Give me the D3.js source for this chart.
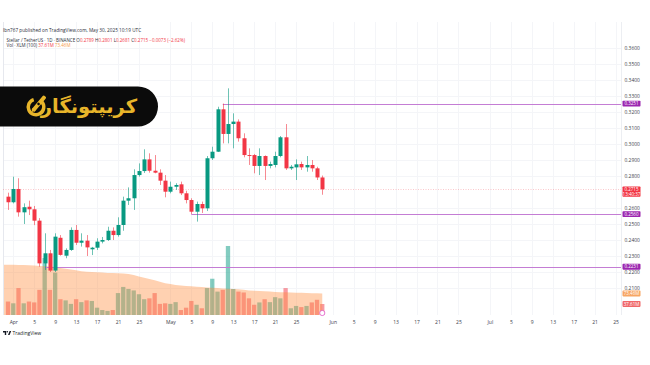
<!DOCTYPE html>
<html><head><meta charset="utf-8">
<script src="https://cdn.jsdelivr.net/npm/d3@7"></script>
<style>html,body{margin:0;padding:0;background:#fff;} svg{display:block;}</style>
</head><body>
<svg id="c" width="650" height="365"></svg>
<script>
// ---------- data ----------
const startDate = "2025-03-31";
const opens  = [0.2669,0.2634,0.2717,0.2571,0.2606,0.2590,0.2519,0.2252,0.2315,0.2207,0.2412,0.2300,0.2336,0.2461,0.2381,0.2394,0.2340,0.2350,0.2388,0.2398,0.2456,0.2429,0.2492,0.2644,0.2659,0.2804,0.2829,0.2902,0.2831,0.2819,0.2769,0.2700,0.2731,0.2746,0.2690,0.2648,0.2575,0.2623,0.2596,0.2909,0.2950,0.3215,0.3061,0.3123,0.3138,0.3034,0.2929,0.2929,0.2861,0.2923,0.2861,0.2867,0.2923,0.3040,0.2846,0.2852,0.2873,0.2852,0.2867,0.2846,0.2789];
const highs  = [0.2694,0.2794,0.2784,0.2627,0.2644,0.2611,0.2535,0.2440,0.2336,0.2440,0.2429,0.2346,0.2477,0.2492,0.2440,0.2429,0.2355,0.2409,0.2417,0.2481,0.2477,0.2540,0.2669,0.2727,0.2840,0.2877,0.2965,0.2940,0.2929,0.2840,0.2804,0.2763,0.2753,0.2763,0.2706,0.2659,0.2638,0.2638,0.2923,0.2981,0.3231,0.3251,0.3346,0.3190,0.3152,0.3065,0.2971,0.2936,0.2971,0.2927,0.2888,0.2950,0.3048,0.3123,0.2867,0.2902,0.2888,0.2923,0.2898,0.2856,0.2801];
const lows   = [0.2586,0.2627,0.2544,0.2498,0.2554,0.2491,0.2231,0.2211,0.2198,0.2198,0.2300,0.2284,0.2330,0.2367,0.2357,0.2298,0.2304,0.2336,0.2377,0.2392,0.2398,0.2419,0.2456,0.2617,0.2586,0.2794,0.2817,0.2819,0.2815,0.2742,0.2665,0.2690,0.2711,0.2679,0.2627,0.2560,0.2513,0.2567,0.2579,0.2898,0.2948,0.3002,0.3002,0.2971,0.3013,0.2915,0.2867,0.2815,0.2804,0.2773,0.2846,0.2852,0.2915,0.2836,0.2836,0.2773,0.2836,0.2825,0.2825,0.2773,0.2681];
const closes = [0.2634,0.2717,0.2571,0.2603,0.2590,0.2519,0.2252,0.2315,0.2207,0.2419,0.2305,0.2336,0.2461,0.2381,0.2394,0.2352,0.2350,0.2388,0.2398,0.2456,0.2429,0.2492,0.2644,0.2659,0.2804,0.2829,0.2902,0.2831,0.2819,0.2769,0.2700,0.2731,0.2742,0.2690,0.2648,0.2575,0.2623,0.2596,0.2909,0.2950,0.3215,0.3061,0.3123,0.3138,0.3034,0.2929,0.2923,0.2861,0.2923,0.2861,0.2873,0.2923,0.3040,0.2846,0.2856,0.2871,0.2852,0.2867,0.2846,0.2789,0.2715];
const volumes = [46,40,92,40,46,43,86,195,86,145,54,50,38,54,44,50,48,25,17,14,17,75,96,89,84,71,54,57,75,38,40,38,44,17,25,48,35,23,92,124,80,86,236,89,80,77,57,35,43,54,44,61,57,92,23,31,27,31,43,52,37.61];
const volMA = [172,172,171,171,170,169,168,167,166,164,161,158,156,153,150,148,147,146,145,144,144,143,142,140,137,132,127,123,119,114,109,106,103,101,99,98,97,96,94,93,92,91,90,89,88,86,84,83,82,81,80,79,78,78,77,76,76,75,74.5,74,73.46];
const priceTicks = [0.21,0.22,0.23,0.24,0.25,0.26,0.28,0.29,0.30,0.31,0.32,0.33,0.34,0.35,0.36];
const levels = [{price:0.3251, from:"2025-05-11"},{price:0.2560, from:"2025-05-05"},{price:0.2231, from:"2025-04-07"}];
const timeTicks = ["2025-04-01","2025-04-05","2025-04-09","2025-04-13","2025-04-17","2025-04-21","2025-04-25",
  "2025-05-01","2025-05-05","2025-05-09","2025-05-13","2025-05-17","2025-05-21","2025-05-25",
  "2025-06-01","2025-06-05","2025-06-09","2025-06-13","2025-06-17","2025-06-21","2025-06-25",
  "2025-07-01","2025-07-05","2025-07-09","2025-07-13","2025-07-17","2025-07-21","2025-07-25"];
const headerTitle = "Ibn767 published on TradingView.com, May 30, 2025 10:19 UTC";
const symbolText = "Stellar / TetherUS · 1D · BINANCE";
const lastVol = "37.61M", lastMA = "73.46M";
const countdown = "13:40:37";
const brandText = "کریپتونگار";

// ---------- setup ----------
const parse = d3.utcParse("%Y-%m-%d");
const dates = d3.utcDay.range(parse(startDate), d3.utcDay.offset(parse(startDate), opens.length));
const bars = dates.map((d,i)=>({date:d,o:opens[i],h:highs[i],l:lows[i],c:closes[i],v:volumes[i],ma:volMA[i],up:closes[i]>=opens[i]}));

const svg = d3.select("#c");
const plotL = 3, plotR = 621, paneTop = 22, paneBottom = 315;
const x = d3.scaleUtc().domain([new Date(Date.UTC(2025,2,30,1)), new Date(Date.UTC(2025,6,26,1))]).range([plotL, plotR]);
const y = d3.scaleLinear().domain([0.21,0.36]).range([287.7,47.7]);
const yv = d3.scaleLinear().domain([0,250]).range([paneBottom, paneBottom-250/3.42]);
const UP = "#089981", DN = "#f23645";
const font = "'Open Sans', 'DejaVu Sans', sans-serif";
const snap = v => Math.round(v)+0.5;

svg.append("rect").attr("width",650).attr("height",365).attr("fill","#fff");

// grid
const g = svg.append("g");
g.selectAll("line.vg").data(timeTicks.map(parse)).join("line")
  .attr("x1",d=>snap(x(d))).attr("x2",d=>snap(x(d)))
  .attr("y1",paneTop).attr("y2",paneBottom).attr("stroke","#f4f5f8").attr("stroke-width",1);
g.selectAll("line.hg").data(priceTicks).join("line")
  .attr("x1",plotL).attr("x2",plotR).attr("y1",d=>snap(y(d))).attr("y2",d=>snap(y(d)))
  .attr("stroke","#f4f5f8").attr("stroke-width",1);
// borders
svg.append("line").attr("x1",plotL+0.5).attr("x2",plotL+0.5).attr("y1",paneTop).attr("y2",paneBottom).attr("stroke","#e6e8ee");
svg.append("line").attr("x1",plotR+0.5).attr("x2",plotR+0.5).attr("y1",paneTop).attr("y2",paneBottom).attr("stroke","#eceef2");

// volume bars
const bw = 4.3;
svg.append("g").selectAll("rect").data(bars).join("rect")
  .attr("x",d=>x(d.date)-bw/2).attr("width",bw)
  .attr("y",d=>yv(d.v)).attr("height",d=>paneBottom-yv(d.v))
  .attr("fill",d=>d.up?"rgba(8,153,129,0.5)":"rgba(242,54,69,0.5)");

// volume MA area (drawn over bars)
const area = d3.area().x((d,i)=> i===0 ? plotL+1 : x(d.date)).y0(paneBottom).y1(d=>yv(d.ma));
const areaData = [bars[0], ...bars];
svg.append("path").datum(areaData).attr("d",area).attr("fill","rgba(255,140,60,0.4)");

// current price dotted line
svg.append("line").attr("x1",plotL).attr("x2",plotR)
  .attr("y1",snap(y(closes[closes.length-1]))).attr("y2",snap(y(closes[closes.length-1])))
  .attr("stroke",DN).attr("stroke-opacity",0.35).attr("stroke-width",0.8).attr("stroke-dasharray","1,1.5");

// level lines
svg.append("g").selectAll("line").data(levels).join("line")
  .attr("x1",d=>x(parse(d.from))).attr("x2",plotR)
  .attr("y1",d=>snap(y(d.price))).attr("y2",d=>snap(y(d.price)))
  .attr("stroke","#c47dd4").attr("stroke-width",1.2);

// candles
const cg = svg.append("g");
cg.selectAll("line").data(bars).join("line")
  .attr("x1",d=>snap(x(d.date))).attr("x2",d=>snap(x(d.date)))
  .attr("y1",d=>y(d.h)).attr("y2",d=>y(d.l))
  .attr("stroke",d=>d.up?UP:DN).attr("stroke-opacity",0.65).attr("stroke-width",0.9);
const cw = 4;
cg.selectAll("rect").data(bars).join("rect")
  .attr("x",d=>snap(x(d.date))-cw/2).attr("width",cw)
  .attr("y",d=>y(Math.max(d.o,d.c))).attr("height",d=>Math.max(0.8,Math.abs(y(d.o)-y(d.c))))
  .attr("fill",d=>d.up?UP:DN);

// price axis
const pAxis = d3.axisRight(y).tickValues(priceTicks).tickFormat(d3.format(".4f")).tickSize(0).tickPadding(0);
const pa = svg.append("g").attr("transform",`translate(624.5,0)`).call(pAxis);
pa.select(".domain").remove();
pa.selectAll("text").attr("font-family",font).attr("font-size",4.9).attr("fill","#3a3e4a");

// time axis
const fmtMonth = d3.utcFormat("%b"), fmtDay = d3.utcFormat("%-d");
const tAxis = d3.axisBottom(x).tickValues(timeTicks.map(parse))
  .tickFormat(d=> d.getUTCDate()===1 ? fmtMonth(d) : fmtDay(d)).tickSize(0).tickPadding(0);
const ta = svg.append("g").attr("transform",`translate(0,320)`).call(tAxis);
ta.select(".domain").remove();
ta.selectAll("text").attr("font-family",font).attr("font-size",5).attr("fill","#3a3e4a");

// price / value labels on axis
function tag(yPos, color, lines, textColor){
  const h = lines.length>1 ? 10.4 : 5.8;
  const gg = svg.append("g");
  gg.append("rect").attr("x",622.5).attr("y",yPos-2.9).attr("width",18).attr("height",h).attr("rx",0.8).attr("fill",color);
  lines.forEach((t,i)=> gg.append("text").attr("x",631.5).attr("y",yPos+1.7+i*4.7).attr("text-anchor","middle")
    .attr("font-family",font).attr("font-size",4.5).attr("fill",textColor||"#fff").text(t));
}
levels.forEach(l=>tag(y(l.price),"#9c27b0",[d3.format(".4f")(l.price)]));
tag(y(closes[closes.length-1]),"#f23645",[d3.format(".4f")(closes[closes.length-1]),countdown]);
tag(yv(volMA[volMA.length-1]),"#f7a664",[lastMA]);
tag(yv(volumes[volumes.length-1]),"#f0686a",[lastVol]);

// header text
svg.append("text").attr("x",3).attr("y",31.5).attr("font-family",font).attr("font-size",4.7).attr("fill","#2a2e39").text(headerTitle);
const l2 = svg.append("text").attr("x",6.5).attr("y",41.5).attr("font-family",font).attr("font-size",4.5).attr("fill","#2a2e39");
l2.append("tspan").text(symbolText+" ");
const last = bars[bars.length-1];
[["O",last.o],["H",last.h],["L",last.l],["C",last.c]].forEach(([k,v])=>{
  l2.append("tspan").attr("fill","#2a2e39").text(" "+k);
  l2.append("tspan").attr("fill",DN).text(d3.format(".4f")(v));
});
l2.append("tspan").attr("fill",DN).text(" −0.0073 (−2.62%)");
const l3 = svg.append("text").attr("x",6.5).attr("y",47.3).attr("font-family",font).attr("font-size",4.5).attr("fill","#2a2e39");
l3.append("tspan").text("Vol · XLM (100) ");
l3.append("tspan").attr("fill",DN).text(lastVol+" ");
l3.append("tspan").attr("fill","#f59a4c").text(lastMA);

// brand badge
svg.append("path").attr("d","M-20,86.5 H138 A20,20 0 0 1 138,126.5 H-20 Z").attr("fill","#0b0b0b");
svg.append("text").attr("x",137).attr("y",112.5).attr("text-anchor","end").attr("font-family","'DejaVu Sans', sans-serif")
  .attr("font-weight","bold").attr("font-size",19.5).attr("fill","#e8b52a").text(brandText);
// icon
const ic = svg.append("g").attr("transform","translate(36,107)");
ic.append("path").attr("d",d3.arc()({innerRadius:6,outerRadius:9.5,startAngle:0.9,endAngle:2*Math.PI-0.3})).attr("fill","#e8b52a");
ic.append("rect").attr("x",-2).attr("y",-14).attr("width",4).attr("height",19).attr("rx",1.2).attr("fill","#e8b52a").attr("transform","rotate(40)");
ic.append("path").attr("d","M-2,3 L2,3 L0,7 Z").attr("fill","#e8b52a").attr("transform","rotate(40)");
ic.append("circle").attr("r",1.3).attr("cx",0).attr("cy",-4).attr("fill","#0b0b0b").attr("transform","rotate(40)");

// event marker
svg.append("circle").attr("cx",x(dates[dates.length-1])).attr("cy",313).attr("r",2.6).attr("fill","#fff").attr("stroke","#e056c8").attr("stroke-width",0.8);

// TradingView logo
const tv = svg.append("g").attr("transform","translate(3,331)");
tv.append("path").attr("d","M0,0 H3.2 V4 H1.8 V1.4 H0 Z").attr("fill","#131722");
tv.append("circle").attr("cx",4.3).attr("cy",0.7).attr("r",0.8).attr("fill","#131722");
tv.append("path").attr("d","M5,4 L6.6,0 H8.2 L6.6,4 Z").attr("fill","#131722");
svg.append("text").attr("x",12.5).attr("y",335).attr("font-family",font).attr("font-size",5).attr("fill","#131722").text("TradingView");
</script>
</body></html>
